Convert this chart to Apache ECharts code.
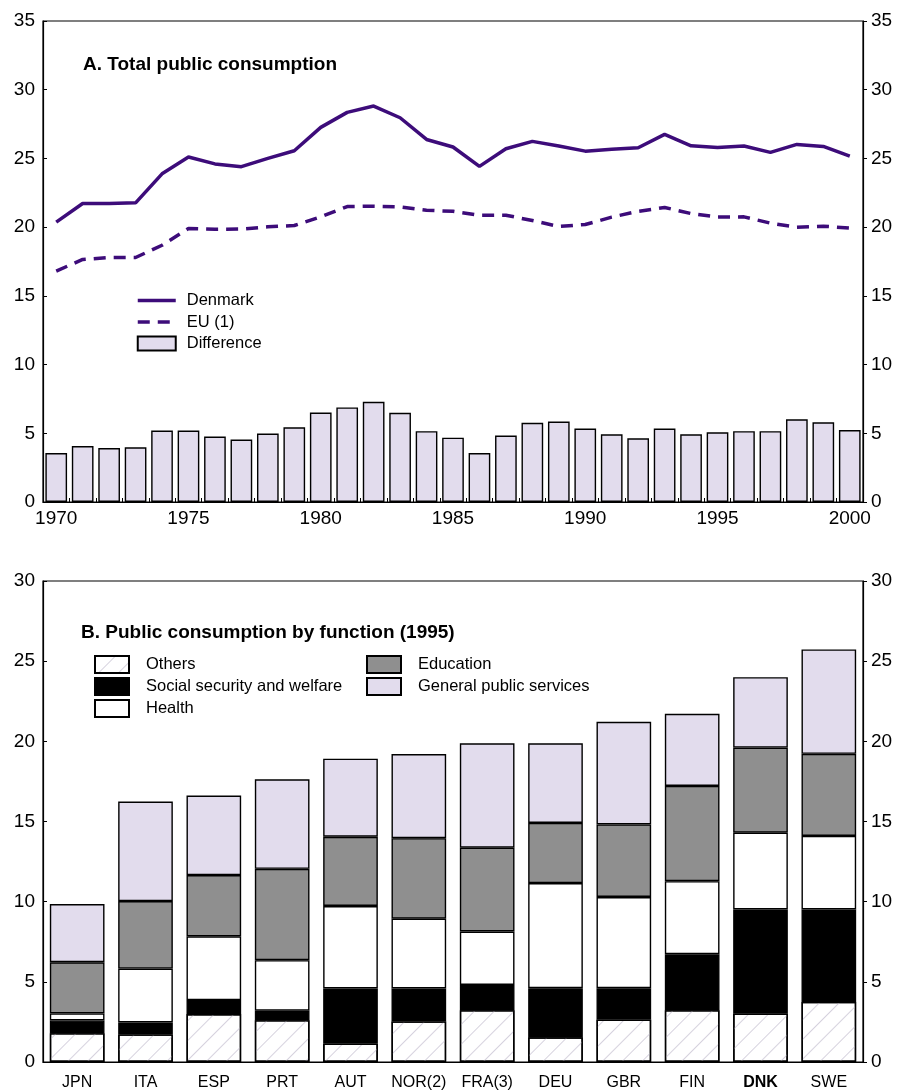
<!DOCTYPE html>
<html><head><meta charset="utf-8">
<script src="https://cdn.jsdelivr.net/npm/echarts@6/dist/echarts.min.js"></script>
<style>html,body{margin:0;padding:0;background:#fff}#c{width:897px;height:1092px}</style>
</head><body><div id="c"></div><script>
// ---- Panel A data ----
const years = ['1970','1971','1972','1973','1974','1975','1976','1977','1978','1979','1980','1981','1982','1983','1984','1985','1986','1987','1988','1989','1990','1991','1992','1993','1994','1995','1996','1997','1998','1999','2000'];
const denmark = [20.36,21.72,21.72,21.77,23.88,25.1,24.6,24.4,25.0,25.56,27.26,28.35,28.81,27.96,26.38,25.83,24.42,25.7,26.24,25.9,25.53,25.66,25.78,26.75,25.92,25.8,25.9,25.44,26.02,25.87,25.17];
const eu = [16.8,17.65,17.79,17.79,18.68,19.9,19.84,19.86,20.02,20.12,20.75,21.5,21.52,21.47,21.23,21.15,20.86,20.87,20.48,20.05,20.19,20.73,21.15,21.43,20.99,20.73,20.75,20.29,20.0,20.07,19.93];
const difference = [3.56,4.07,3.93,3.98,5.2,5.2,4.76,4.54,4.98,5.44,6.51,6.88,7.29,6.49,5.15,4.68,3.56,4.83,5.76,5.85,5.34,4.93,4.63,5.34,4.93,5.07,5.15,5.15,6.02,5.8,5.24];
const ticksA = [0,5,10,15,20,25,30,35];

// ---- Panel B data ----
const countries = ['JPN','ITA','ESP','PRT','AUT','NOR(2)','FRA(3)','DEU','GBR','FIN','DNK','SWE'];
const others    = [1.8,1.72,2.99,2.61,1.14,2.53,3.23,1.54,2.64,3.23,3.02,3.75];
const social    = [0.79,0.75,0.87,0.59,3.45,2.06,1.58,3.06,1.96,3.49,6.49,5.76];
const health    = [0.44,3.36,3.98,3.15,5.14,4.35,3.33,6.56,5.69,4.56,4.79,4.59];
const education = [3.19,4.21,3.82,5.7,4.32,5.02,5.23,3.75,4.53,5.94,5.31,5.12];
const gps       = [3.63,6.2,4.96,5.58,4.87,5.25,6.51,4.97,6.4,4.5,4.39,6.51];
const ticksB = [0,5,10,15,20,25,30];

const FONT = 'Liberation Sans, Arial, sans-serif';
const PURPLE = '#3d0c7a';
const LAV = '#e2dced';
const GREY = '#8f8f8f';

const chart = echarts.init(document.getElementById('c'), null, {renderer:'canvas'});

function yAx(gi, max, pos, inside){
  return {
    type:'value', gridIndex:gi, min:0, max:max, interval:5, position:pos,
    axisLine:{show:true, lineStyle:{color:'#000', width:1.2}},
    axisTick:{show:true, inside:inside, length:4, lineStyle:{color:'#000'}},
    axisLabel:{show:true, color:'#000', fontSize:19, fontFamily:FONT, margin:8},
    splitLine:{show:false}
  };
}
const barBorder = {borderColor:'#000', borderWidth:1.4};
const legText = {fontSize:16.5, fontFamily:FONT, color:'#000', padding:[0,0,0,6]};

const option = {
  animation:false,
  backgroundColor:'#fff',
  title:[
    {text:'A. Total public consumption', left:78, top:50,
     textStyle:{fontSize:19, fontWeight:'bold', fontFamily:FONT, color:'#000'}},
    {text:'B. Public consumption by function (1995)', left:76, top:618,
     textStyle:{fontSize:19, fontWeight:'bold', fontFamily:FONT, color:'#000'}}
  ],
  legend:[
    {orient:'vertical', left:131, top:287, itemWidth:38, itemHeight:14, itemGap:4.5,
     textStyle:legText,
     data:[{name:'Denmark', itemStyle:{opacity:0}, lineStyle:{width:3.5}},
           {name:'EU (1)', itemStyle:{opacity:0}, lineStyle:{width:3.5}},
           {name:'Difference', icon:'rect'}]},
    {orient:'vertical', left:89, top:650, itemWidth:34, itemHeight:17, itemGap:3,
     textStyle:Object.assign({}, legText, {padding:[0,0,0,12]}),
     data:[{name:'Others', icon:'rect'},{name:'Social security and welfare', icon:'rect'},{name:'Health', icon:'rect'}]},
    {orient:'vertical', left:361, top:650, itemWidth:34, itemHeight:17, itemGap:3,
     textStyle:Object.assign({}, legText, {padding:[0,0,0,12]}),
     data:[{name:'Education', icon:'rect'},{name:'General public services', icon:'rect'}]}
  ],
  grid:[
    {left:43, right:34, top:21, height:481, show:true, borderColor:'#000', borderWidth:1.2, backgroundColor:'transparent'},
    {left:43, right:34, top:581, height:481, show:true, borderColor:'#000', borderWidth:1.2, backgroundColor:'transparent'}
  ],
  xAxis:[
    {type:'category', gridIndex:0, data:years, boundaryGap:true,
     axisLine:{lineStyle:{color:'#000', width:1.2}},
     axisTick:{show:true, inside:true, length:4, interval:0, alignWithLabel:false, lineStyle:{color:'#000'}},
     axisLabel:{interval:4, color:'#000', fontSize:19, fontFamily:FONT, margin:7}},
    {type:'category', gridIndex:1, data:countries,
     axisLine:{lineStyle:{color:'#000', width:1.2}},
     axisTick:{show:true, inside:true, length:4, alignWithLabel:true, lineStyle:{color:'#000'}},
     axisLabel:{interval:0, color:'#000', fontSize:16, fontFamily:FONT, margin:13,
       formatter:function(v){ return v==='DNK' ? '{b|'+v+'}' : v; },
       rich:{b:{fontWeight:'bold', fontSize:16, fontFamily:FONT, color:'#000'}}}}
  ],
  yAxis:[
    yAx(0, 35, 'left', true),
    yAx(0, 35, 'right', false),
    yAx(1, 30, 'left', true),
    yAx(1, 30, 'right', false)
  ],
  series:[
    {name:'Difference', type:'bar', xAxisIndex:0, yAxisIndex:0, data:difference,
     barCategoryGap:'18%', itemStyle:Object.assign({color:LAV}, barBorder)},
    {name:'Denmark', type:'line', xAxisIndex:0, yAxisIndex:0, data:denmark, symbol:'none',
     lineStyle:{color:PURPLE, width:3.5, type:'solid'}, itemStyle:{color:PURPLE}, z:5},
    {name:'EU (1)', type:'line', xAxisIndex:0, yAxisIndex:0, data:eu, symbol:'none',
     lineStyle:{color:PURPLE, width:3.5, type:[12,8]}, itemStyle:{color:PURPLE}, z:5},

    {name:'Others', type:'bar', stack:'b', xAxisIndex:1, yAxisIndex:2, data:others,
     barWidth:'80%',
     itemStyle:Object.assign({color:'#fff', decal:{symbol:'rect', symbolSize:1, dashArrayX:[1,0], dashArrayY:[1,13], rotation:-Math.PI/4, color:'#d6d2de'}}, barBorder)},
    {name:'Social security and welfare', type:'bar', stack:'b', xAxisIndex:1, yAxisIndex:2, data:social,
     itemStyle:Object.assign({color:'#000'}, barBorder)},
    {name:'Health', type:'bar', stack:'b', xAxisIndex:1, yAxisIndex:2, data:health,
     itemStyle:Object.assign({color:'#fff'}, barBorder)},
    {name:'Education', type:'bar', stack:'b', xAxisIndex:1, yAxisIndex:2, data:education,
     itemStyle:Object.assign({color:GREY}, barBorder)},
    {name:'General public services', type:'bar', stack:'b', xAxisIndex:1, yAxisIndex:2, data:gps,
     itemStyle:Object.assign({color:LAV}, barBorder)}
  ]
};
chart.setOption(option);
</script></body></html>
